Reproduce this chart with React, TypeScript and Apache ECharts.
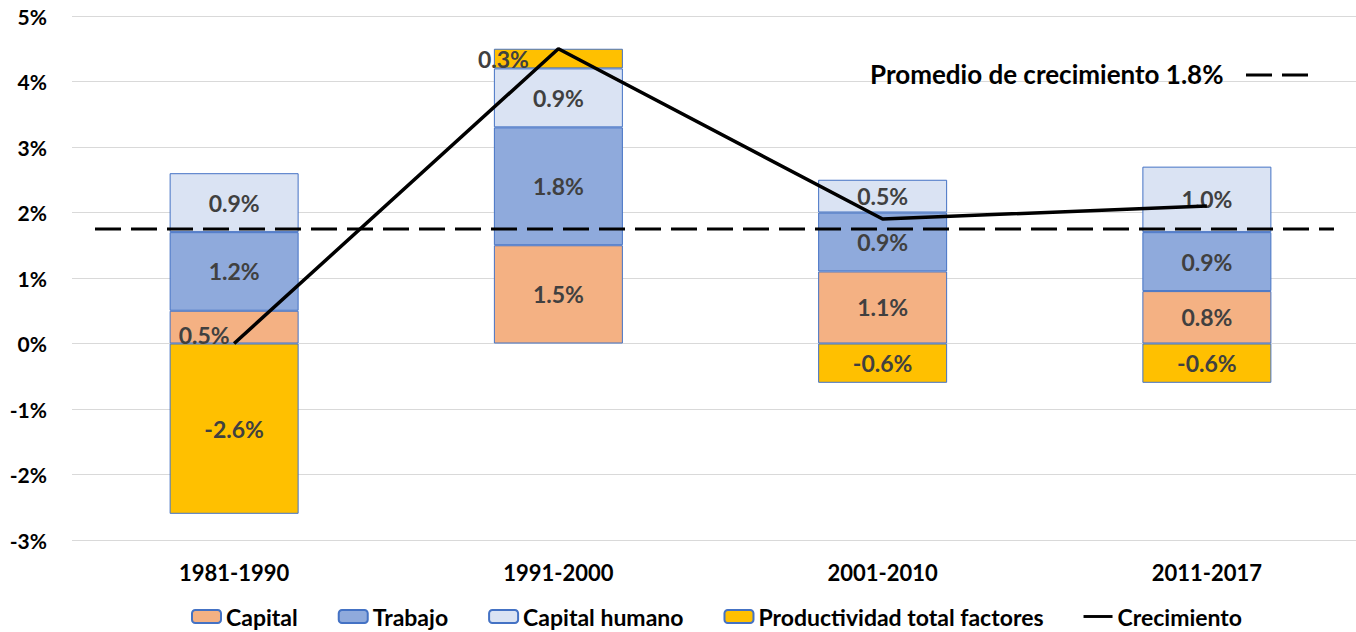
import React, { useEffect, useRef } from "react";
import * as echarts from "echarts";

const categories = ["1981-1990", "1991-2000", "2001-2010", "2011-2017"];
const capital = [0.5, 1.5, 1.1, 0.8];
const trabajo = [1.2, 1.8, 0.9, 0.9];
const capitalHumano = [0.9, 0.9, 0.5, 1.0];
const ptf = [-2.6, 0.3, -0.6, -0.6];
const crecimiento = [0.0, 4.5, 1.9, 2.1];
const promedio = 1.75;
const promedioLabel = "Promedio de crecimiento 1.8%";
const yTicks = { min: -3, max: 5, interval: 1 };

const FONT = "Lato";
const LABEL_COLOR = "#404040";

// label nudges (series name -> category index -> offset)
const labelOffsets: Record<string, Record<number, number[]>> = {
  Capital: { 0: [-30, 8] },
  "Productividad total factores": { 1: [-55, 0] },
};

export default function App() {
  const ref = useRef<HTMLDivElement>(null);
  useEffect(() => {
    const chart = echarts.init(ref.current!, undefined, { renderer: "svg" });
    const fmt = (p: any) => {
      const v = typeof p.value === "object" ? p.value.value : p.value;
      return Number(v).toFixed(1) + "%";
    };
    const mkBar = (name: string, values: number[], color: string) => ({
      name,
      type: "bar",
      stack: "total",
      barWidth: 129,
      itemStyle: { color, borderColor: "#4472C4", borderWidth: 1 },
      label: {
        show: true,
        position: "inside",
        formatter: fmt,
        color: LABEL_COLOR,
        fontFamily: FONT,
        fontWeight: "bold",
        fontSize: 23,
      },
      data: values.map((v, i) => {
        const off = labelOffsets[name] && labelOffsets[name][i];
        return off ? { value: v, label: { offset: off } } : v;
      }),
    });
    chart.setOption({
      animation: false,
      textStyle: { fontFamily: FONT },
      grid: { left: 72, top: 16, right: 1, height: 524, containLabel: false },
      legend: {
        left: 186,
        top: 600,
        itemWidth: 29,
        itemHeight: 13,
        itemGap: 40,
        symbolKeepAspect: true,
        textStyle: { fontFamily: FONT, fontWeight: "bold", fontSize: 23, color: "#000" },
        data: [
          "Capital",
          "Trabajo",
          "Capital humano",
          "Productividad total factores",
          { name: "Crecimiento", icon: "path://M0,0L30,0L30,3L0,3Z" },
        ],
      },
      xAxis: {
        type: "category",
        data: categories,
        axisLine: { show: false },
        axisTick: { show: false },
        axisLabel: { margin: 21, fontFamily: FONT, fontWeight: "bold", fontSize: 22, color: "#000" },
      },
      yAxis: {
        type: "value",
        min: yTicks.min,
        max: yTicks.max,
        interval: yTicks.interval,
        axisLine: { show: false },
        axisTick: { show: false },
        splitLine: { lineStyle: { color: "#d9d9d9", width: 1 } },
        axisLabel: {
          margin: 25,
          formatter: (v: number) => v + "%",
          fontFamily: FONT,
          fontWeight: "bold",
          fontSize: 21,
          color: "#000",
        },
      },
      series: [
        mkBar("Capital", capital, "#F4B183"),
        mkBar("Trabajo", trabajo, "#8FAADC"),
        mkBar("Capital humano", capitalHumano, "#DAE3F3"),
        mkBar("Productividad total factores", ptf, "#FFC000"),
        {
          name: "Crecimiento",
          type: "line",
          data: crecimiento,
          symbol: "none",
          showSymbol: false,
          lineStyle: { color: "#000", width: 3.5 },
          itemStyle: { color: "#000" },
          z: 5,
        },
      ],
    });
    const yAvg = chart.convertToPixel({ yAxisIndex: 0 }, promedio) as number;
    chart.setOption({
      graphic: [
        {
          type: "line",
          z: 10,
          shape: { x1: 95, y1: yAvg, x2: 1334, y2: yAvg },
          style: { stroke: "#000", lineWidth: 3, lineDash: [26, 10] },
        },
        {
          type: "text",
          left: 870,
          top: 61,
          style: { text: promedioLabel, fontFamily: FONT, fontWeight: "bold", fontSize: 26, fill: "#000" },
        },
        {
          type: "line",
          shape: { x1: 1246, y1: 75, x2: 1310, y2: 75 },
          style: { stroke: "#000", lineWidth: 3, lineDash: [26, 10] },
        },
      ],
    });
    return () => chart.dispose();
  }, []);
  return (
    <div
      ref={ref}
      style={{ position: "fixed", left: 0, top: 0, width: 1370, height: 632, background: "#fff" }}
    />
  );
}
